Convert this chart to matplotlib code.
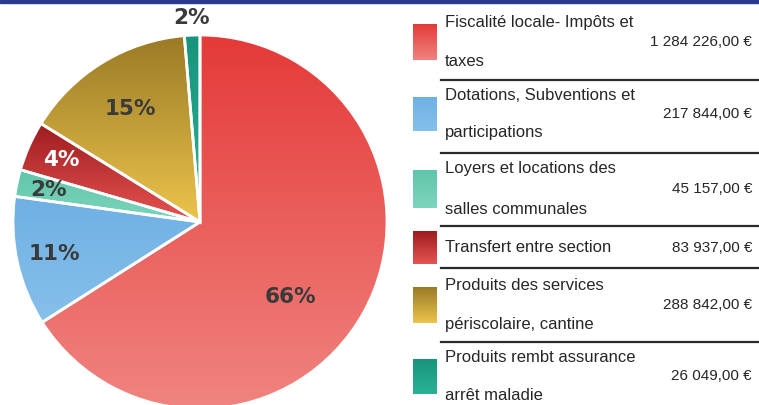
import numpy as np
import matplotlib
matplotlib.use("Agg")
import matplotlib.pyplot as plt
from matplotlib.colors import LinearSegmentedColormap
from matplotlib.patches import Rectangle

# Data
categories = [
    "Fiscalité locale- Impôts et\ntaxes",
    "Dotations, Subventions et\nparticipations",
    "Loyers et locations des\nsalles communales",
    "Transfert entre section",
    "Produits des services\npériscolaire, cantine",
    "Produits rembt assurance\narrêt maladie",
]
amounts = [1284226, 217844, 45157, 83937, 288842, 26049]
amount_labels = ["1 284 226,00 €", "217 844,00 €", "45 157,00 €",
                 "83 937,00 €", "288 842,00 €", "26 049,00 €"]
pct_labels = ["66%", "11%", "2%", "4%", "15%", "2%"]

# gradient colours (top, bottom) per slice
grad_colors = [
    ("#e43a38", "#f08480"),
    ("#6fb0e4", "#86c0ea"),
    ("#5fc6a9", "#7fd4bd"),
    ("#9e1c1e", "#e65452"),
    ("#9a7a26", "#ecc44c"),
    ("#17957c", "#2bb295"),
]
pct_colors = ["#3a3a3a", "#3a3a3a", "#3a3a3a", "white", "#3a3a3a", "#3a3a3a"]
pct_dist = [0.63, 0.80, 0.83, 0.81, 0.71, 1.09]
pct_shift = [-11, 0, 0, 0, 0, 0]

W, H = 759, 405
fig = plt.figure(figsize=(W / 100, H / 100), dpi=100)
ax = fig.add_axes([0, 0, 1, 1])

center = (200, H - 222)
radius = 187

wedges, _ = ax.pie(amounts, center=center, radius=radius, startangle=90,
                   counterclock=False, frame=True,
                   wedgeprops=dict(edgecolor="white", linewidth=2))
ax.set_aspect("equal")
ax.axis("off")

# vertical gradient inside each slice
grad = np.linspace(0, 1, 256).reshape(-1, 1)
for w, (c_top, c_bot) in zip(wedges, grad_colors):
    cmap = LinearSegmentedColormap.from_list("g", [c_top, c_bot])
    bb = w.get_path().get_extents()
    w.set_facecolor("none")
    im = ax.imshow(grad, cmap=cmap, extent=[bb.x0, bb.x1, bb.y0, bb.y1],
                   aspect="auto", origin="upper", zorder=1)
    im.set_clip_path(w)
    w.set_zorder(2)

for w, lab, col, d, s in zip(wedges, pct_labels, pct_colors, pct_dist, pct_shift):
    ang = np.deg2rad((w.theta1 + w.theta2) / 2 + s)
    x = center[0] + d * radius * np.cos(ang)
    y = center[1] + d * radius * np.sin(ang)
    ax.text(x, y, lab, ha="center", va="center", fontsize=15.5,
            fontweight="bold", color=col, zorder=5)

# top band
ax.add_patch(Rectangle((0, H - 3), W, 3, color="#2b3a8e", zorder=6))

# legend table
row_top = [22, 95, 168, 229, 285, 357]
row_bot = [62, 133, 210, 266, 325, 396]
seps = [80, 153, 226, 268, 342]
font = ["Liberation Sans", "DejaVu Sans"]
txt_col = "#262626"
for i, (cat, val) in enumerate(zip(categories, amount_labels)):
    c_top, c_bot = grad_colors[i]
    sw_top = H - (row_top[i] + 2)
    sw_bot = H - (row_bot[i] - 2)
    cmap = LinearSegmentedColormap.from_list("g", [c_top, c_bot])
    ax.imshow(grad, cmap=cmap, extent=[413, 437, sw_bot, sw_top],
              aspect="auto", origin="upper", zorder=3)
    lines = cat.split("\n")
    if len(lines) == 1:
        ax.text(445, H - (row_top[i] + row_bot[i]) / 2, lines[0], ha="left",
                va="center", fontsize=12, family=font, color=txt_col)
    else:
        ax.text(445, H - row_top[i], lines[0], ha="left", va="center",
                fontsize=12, family=font, color=txt_col)
        ax.text(445, H - row_bot[i], lines[1], ha="left", va="center",
                fontsize=12, family=font, color=txt_col)
    ax.text(752, H - (row_top[i] + row_bot[i]) / 2, val, ha="right",
            va="center", fontsize=11, family=font, color=txt_col)

for s in seps:
    ax.plot([441, W], [H - s, H - s], color="#2a2a2a", linewidth=1.6, zorder=4)

ax.set_xlim(0, W)
ax.set_ylim(0, H)
fig.savefig("out.png", dpi=100)
